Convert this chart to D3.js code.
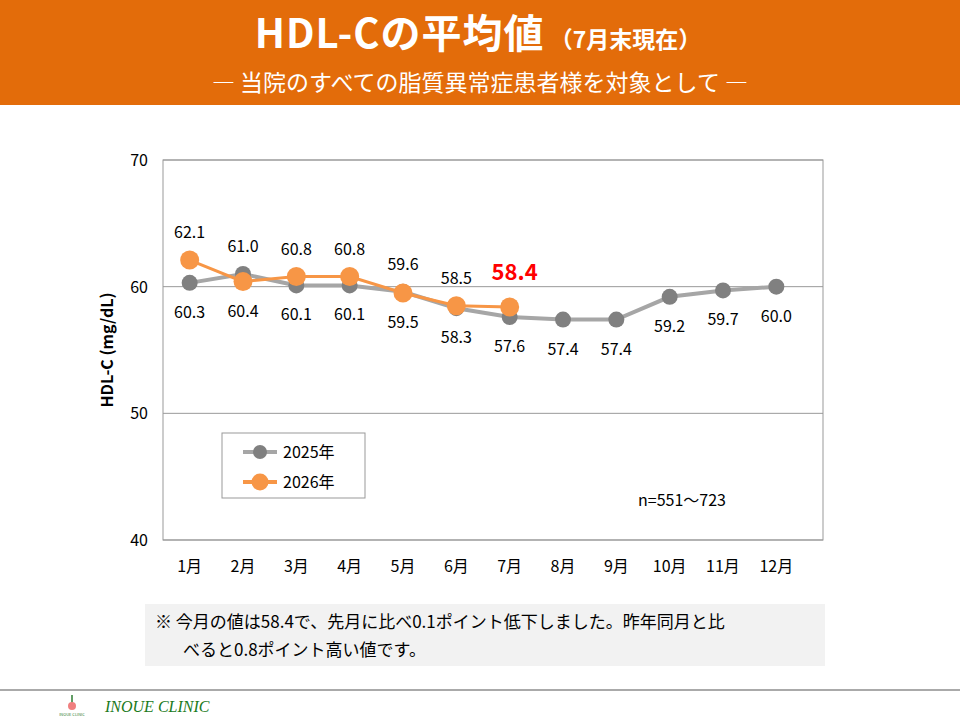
<!DOCTYPE html><html><head><meta charset="utf-8"><script src="https://cdn.jsdelivr.net/npm/d3@7"></script>
<style>body{margin:0}svg{font-family:"Noto Sans CJK JP","Noto Sans",sans-serif}</style></head><body><svg id="c" width="960" height="720"></svg>
<script>
const months=["1月","2月","3月","4月","5月","6月","7月","8月","9月","10月","11月","12月"];
const y2025=[60.3,61.0,60.1,60.1,59.6,58.3,57.6,57.4,57.4,59.2,59.7,60.0];
const y2026=[62.1,60.4,60.8,60.8,59.5,58.5,58.4];
const yTicks=[40,50,60,70];
const svg=d3.select("#c");
svg.append("rect").attr("width",960).attr("height",720).attr("fill","#fff");
svg.append("rect").attr("width",960).attr("height",105).attr("fill","#E36C0A");
const t=svg.append("text").attr("x",478).attr("y",48).attr("text-anchor","middle").attr("fill","#fff").attr("font-weight","bold");
t.append("tspan").attr("font-size",40).attr("letter-spacing",1).text("HDL-Cの平均値");
t.append("tspan").attr("font-size",23).text(" （7月末現在）");
svg.append("text").attr("x",480).attr("y",91).attr("text-anchor","middle").attr("fill","#fff").attr("font-size",23).text("―   当院のすべての脂質異常症患者様を対象として   ―");
const x=d3.scaleBand().domain(months).range([163,803]);
const y=d3.scaleLinear().domain([40,70]).range([540,160]);
const cx=m=>x(m)+x.bandwidth()/2;
svg.append("g").selectAll("line").data(yTicks).join("line").attr("x1",163).attr("x2",823).attr("y1",d=>y(d)).attr("y2",d=>y(d)).attr("stroke","#999");
svg.append("rect").attr("x",163).attr("y",160).attr("width",660).attr("height",380).attr("fill","none").attr("stroke","#999");
svg.append("g").selectAll("text").data(yTicks).join("text").attr("x",148).attr("y",d=>y(d)+6).attr("text-anchor","end").attr("font-size",16).text(d=>d);
svg.append("g").selectAll("text").data(months).join("text").attr("x",d=>cx(d)).attr("y",572).attr("text-anchor","middle").attr("font-size",16).text(d=>d);
svg.append("text").attr("transform","translate(113,350) rotate(-90)").attr("text-anchor","middle").attr("font-size",16).attr("font-weight","bold").text("HDL-C (mg/dL)");
const line=d3.line().x((d,i)=>cx(months[i])).y(d=>y(d));
svg.append("path").attr("d",line(y2025)).attr("fill","none").attr("stroke","#A6A6A6").attr("stroke-width",4);
svg.append("g").selectAll("circle").data(y2025).join("circle").attr("cx",(d,i)=>cx(months[i])).attr("cy",d=>y(d)).attr("r",8).attr("fill","#808080");
svg.append("path").attr("d",line(y2026)).attr("fill","none").attr("stroke","#F79646").attr("stroke-width",3);
svg.append("g").selectAll("circle").data(y2026).join("circle").attr("cx",(d,i)=>cx(months[i])).attr("cy",d=>y(d)).attr("r",9.5).attr("fill","#F79646");
const lab=svg.append("g").attr("font-size",16).attr("text-anchor","middle");
y2025.forEach((v,i)=>{const o=y2026[i];const above=o!==undefined&&v>o;
 lab.append("text").attr("x",cx(months[i])).attr("y",above?y(v)-22:y(v)+35).text(v.toFixed(1));});
y2026.forEach((v,i)=>{const o=y2025[i];const above=v>=o;
 if(i===6){lab.append("text").attr("x",cx(months[i])+5).attr("y",y(v)-27).attr("fill","#FF0000").attr("font-size",22).attr("font-weight","bold").text(v.toFixed(1));return;}
 lab.append("text").attr("x",cx(months[i])).attr("y",above?y(v)-22:y(v)+35).text(v.toFixed(1));});
svg.append("rect").attr("x",222).attr("y",433).attr("width",143).attr("height",65).attr("fill","#fff").attr("stroke","#999");
[["2025年","#A6A6A6","#808080",8],["2026年","#F79646","#F79646",9.5]].forEach((l,i)=>{const yy=452+i*30;
 svg.append("line").attr("x1",243).attr("x2",277).attr("y1",yy).attr("y2",yy).attr("stroke",l[1]).attr("stroke-width",4);
 svg.append("circle").attr("cx",260).attr("cy",yy).attr("r",l[3]-1).attr("fill",l[2]);
 svg.append("text").attr("x",283).attr("y",yy+6).attr("font-size",16).text(l[0]);});
svg.append("text").attr("x",638).attr("y",506).attr("font-size",16).text("n=551〜723");
svg.append("rect").attr("x",145).attr("y",604).attr("width",680).attr("height",62).attr("fill","#F2F2F2");
svg.append("text").attr("x",155).attr("y",628).attr("font-size",17).text("※  今月の値は58.4で、先月に比べ0.1ポイント低下しました。昨年同月と比");
svg.append("text").attr("x",183).attr("y",656).attr("font-size",17).text("べると0.8ポイント高い値です。");
svg.append("line").attr("x1",0).attr("x2",960).attr("y1",690).attr("y2",690).attr("stroke","#aaa").attr("stroke-width",2);
svg.append("line").attr("x1",72).attr("x2",72).attr("y1",695).attr("y2",703).attr("stroke","#2e7d32").attr("stroke-width",1.5);
svg.append("circle").attr("cx",72).attr("cy",706).attr("r",4).attr("fill","#F08080");
svg.append("text").attr("x",72).attr("y",716).attr("text-anchor","middle").attr("font-size",4).attr("fill","#2e7d32").text("INOUE CLINIC");
svg.append("text").attr("x",105).attr("y",712).attr("font-size",16).attr("font-style","italic").attr("fill","#1B7A1B").attr("font-family","Liberation Serif").text("INOUE CLINIC");
</script></body></html>
